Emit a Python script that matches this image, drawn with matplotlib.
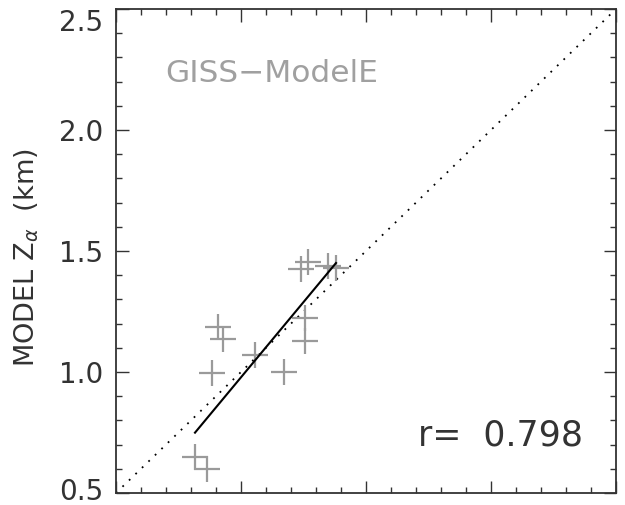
import numpy as np
import matplotlib
matplotlib.use("Agg")
import matplotlib.pyplot as plt
import matplotlib.transforms as mtransforms
from matplotlib.ticker import MultipleLocator, FormatStrFormatter

plt.rcParams['font.family'] = ['DejaVu Sans']
plt.rcParams['mathtext.fontset'] = 'dejavusans'

# observed vs modelled alpha heights (km)
obs_z = [0.816, 0.864, 0.884, 0.908, 0.928, 1.056, 1.172, 1.256, 1.256, 1.240, 1.268, 1.348, 1.380]
model_z = [0.649, 0.599, 0.996, 1.186, 1.136, 1.070, 1.000, 1.223, 1.128, 1.426, 1.455, 1.438, 1.430]
y_ticks = [0.5, 1.0, 1.5, 2.0, 2.5]
fit_slope = 1.243
fit_intercept = -0.265
r_value = 0.798
model_name = 'GISS\u2212ModelE'

fig = plt.figure(figsize=(6.25, 5.05), dpi=100)
ax = fig.add_axes([0.1856, 0.0238, 0.80, 0.9584])

# 1:1 line
ax.plot([0.5, 2.5], [0.5, 2.5], color='black', lw=1.3, linestyle=(0, (1, 4)))
ax.plot(obs_z, model_z, '+', color='#9a9a9a', ms=19, mew=1.6)

xs = np.array([min(obs_z), max(obs_z)])
ax.plot(xs, fit_slope * xs + fit_intercept, color='black', lw=1.5)

ax.set_xlim(0.5, 2.5)
ax.set_ylim(0.5, 2.5)
ax.xaxis.set_major_locator(MultipleLocator(0.5))
ax.xaxis.set_minor_locator(MultipleLocator(0.1))
ax.set_yticks(y_ticks)
ax.yaxis.set_minor_locator(MultipleLocator(0.1))
ax.yaxis.set_major_formatter(FormatStrFormatter('%.1f'))
ax.tick_params(which='both', direction='in', top=True, right=True, width=1.0, color='#333333')
ax.tick_params(which='major', length=9)
ax.tick_params(which='minor', length=4)
ax.tick_params(axis='x', labelbottom=False)
ax.tick_params(axis='y', labelsize=20, pad=9, labelcolor='#333333')
for sp in ax.spines.values():
    sp.set_linewidth(1.3)
    sp.set_color('#333333')

ax.set_ylabel(r'MODEL Z$_\alpha$  (km)', fontsize=19.5, color='#333333')
ax.yaxis.set_label_coords(-0.15, 0.486)

ax.text(0.098, 0.866, model_name, transform=ax.transAxes, fontsize=22.5,
        color='#a0a0a0', va='center', ha='left')
ax.text(0.604, 0.118, 'r=  %.3f' % r_value, transform=ax.transAxes, fontsize=25,
        color='#333333', va='center', ha='left')

# keep the end labels inside the figure
fig.canvas.draw()
nudge_up = mtransforms.ScaledTranslation(0, 4 / 100, fig.dpi_scale_trans)
for lab in ax.get_yticklabels():
    if lab.get_text() == '2.5':
        lab.set_va('top')
    elif lab.get_text() == '0.5':
        lab.set_transform(lab.get_transform() + nudge_up)

fig.savefig('out.png', dpi=100)
